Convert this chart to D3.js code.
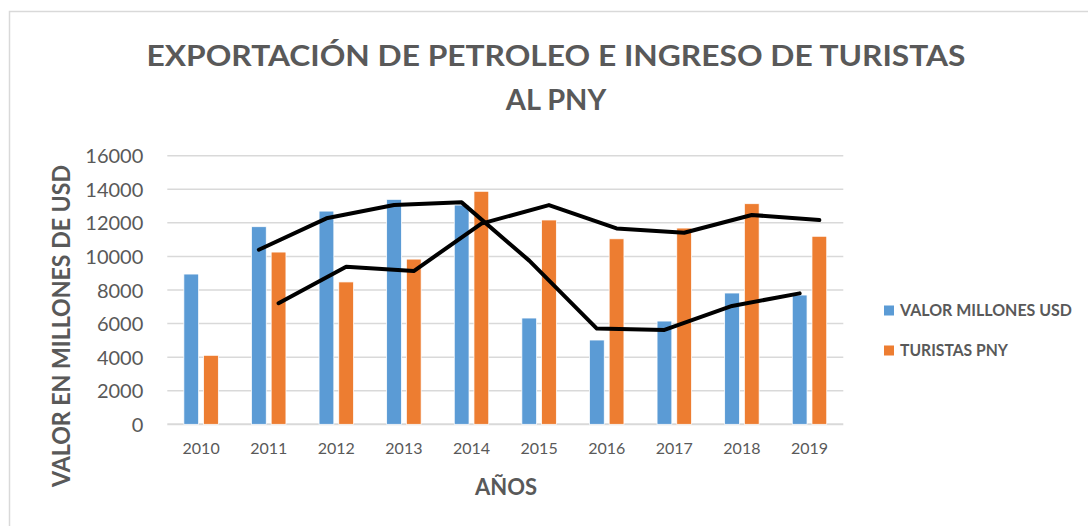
<!DOCTYPE html>
<html>
<head>
<meta charset="utf-8">
<script src="https://cdn.jsdelivr.net/npm/d3@7"></script>
<style>
  html, body { margin: 0; padding: 0; background: #fff; }
  svg { display: block; font-family: Lato, "Open Sans", sans-serif; }
</style>
</head>
<body>
<svg id="chart"></svg>
<script>
// Data
const years = ['2010', '2011', '2012', '2013', '2014', '2015', '2016', '2017', '2018', '2019'];
const valorMillones = [8950, 11770, 12700, 13400, 13060, 6330, 5020, 6150, 7820, 7700];
const turistas = [4110, 10260, 8480, 9840, 13880, 12170, 11050, 11690, 13140, 11200];
// black trend lines (2-period moving average, as drawn in the picture)
const valorTrend = [null, 10400, 12270, 13060, 13220, 9750, 5700, 5620, 7050, 7800];
const turistasTrend = [null, 7210, 9390, 9130, 11950, 13060, 11670, 11410, 12470, 12170];
const yTicks = [0, 2000, 4000, 6000, 8000, 10000, 12000, 14000, 16000];

const seriesNames = ['VALOR MILLONES USD', 'TURISTAS PNY'];
const colors = { v: '#5B9BD5', t: '#ED7D31' };
const textGray = '#595959';

const W = 1088, H = 526;
const margin = { top: 155.7, right: 244.7, bottom: 101.7, left: 167.3 };
const width = W - margin.left - margin.right;
const height = H - margin.top - margin.bottom;

const svg = d3.select('#chart').attr('width', W).attr('height', H);

// outer chart border (only top and left are inside the frame)
svg.append('rect')
    .attr('x', 9.5).attr('y', 11.5)
    .attr('width', W + 20).attr('height', H + 20)
    .attr('fill', 'none')
    .attr('stroke', '#D9D9D9')
    .attr('stroke-width', 1.5);

const chart = svg.append('g')
    .attr('transform', `translate(${margin.left},${margin.top})`);

const xScale = d3.scaleBand()
    .domain(years)
    .range([0, width])
    .paddingInner(0.49)
    .paddingOuter(0.245);

const xSub = d3.scaleBand()
    .domain(['v', 't'])
    .range([0, xScale.bandwidth()])
    .paddingInner(0.25);

const yScale = d3.scaleLinear()
    .domain([0, 16000])
    .range([height, 0]);

// gridlines
chart.append('g')
    .selectAll('line')
    .data(yTicks)
    .join('line')
    .attr('x1', 0).attr('x2', width)
    .attr('y1', d => yScale(d)).attr('y2', d => yScale(d))
    .attr('stroke', '#D9D9D9')
    .attr('stroke-width', d => d === 0 ? 2 : 1.5);

// y axis labels
const yAxis = d3.axisLeft(yScale)
    .tickValues(yTicks)
    .tickSize(0)
    .tickPadding(24)
    .tickFormat(d => d);

chart.append('g')
    .call(yAxis)
    .call(g => g.select('.domain').remove())
    .selectAll('text')
    .attr('fill', textGray)
    .attr('font-size', 20)
    .attr('font-family', 'Lato, sans-serif')
    .attr('dy', '0.35em');

// x axis labels
const xAxis = d3.axisBottom(xScale)
    .tickSize(0)
    .tickPadding(18);

chart.append('g')
    .attr('transform', `translate(0,${height})`)
    .call(xAxis)
    .call(g => g.select('.domain').remove())
    .selectAll('text')
    .attr('fill', textGray)
    .attr('font-size', 16)
    .attr('font-family', 'Lato, sans-serif');

// bars
const rows = years.map((y, i) => ({ year: y, v: valorMillones[i], t: turistas[i] }));

const groups = chart.append('g')
    .selectAll('g')
    .data(rows)
    .join('g')
    .attr('transform', d => `translate(${xScale(d.year)},0)`);

groups.selectAll('rect')
    .data(d => ['v', 't'].map(k => ({ key: k, value: d[k] })))
    .join('rect')
    .attr('x', d => xSub(d.key))
    .attr('width', xSub.bandwidth())
    .attr('y', d => yScale(d.value))
    .attr('height', d => yScale(0) - yScale(d.value))
    .attr('fill', d => colors[d.key])
    .attr('stroke', '#fff')
    .attr('stroke-width', 0.75);

// trend lines
function trendLine(values, key) {
    const pts = years.map((y, i) => ({ year: y, value: values[i] }))
        .filter(d => d.value !== null);
    const line = d3.line()
        .x(d => xScale(d.year) + xSub(key) + xSub.bandwidth() / 2)
        .y(d => yScale(d.value));
    chart.append('path')
        .datum(pts)
        .attr('d', line)
        .attr('fill', 'none')
        .attr('stroke', '#000')
        .attr('stroke-width', 4)
        .attr('stroke-linejoin', 'round')
        .attr('stroke-linecap', 'round');
}
trendLine(valorTrend, 'v');
trendLine(turistasTrend, 't');

// title
const title = svg.append('text')
    .attr('text-anchor', 'middle')
    .attr('fill', textGray)
    .attr('font-size', 29)
    .attr('font-weight', 'bold');
title.append('tspan')
    .attr('x', 556).attr('y', 66)
    .attr('textLength', 819)
    .attr('lengthAdjust', 'spacingAndGlyphs')
    .text('EXPORTACIÓN DE PETROLEO E INGRESO DE TURISTAS');
title.append('tspan')
    .attr('x', 556).attr('y', 110)
    .text('AL PNY');

// axis titles
svg.append('text')
    .attr('transform', 'translate(70,326) rotate(-90)')
    .attr('text-anchor', 'middle')
    .attr('fill', textGray)
    .attr('font-size', 25)
    .attr('font-weight', 'bold')
    .attr('textLength', 322)
    .attr('lengthAdjust', 'spacingAndGlyphs')
    .text('VALOR EN MILLONES DE USD');

svg.append('text')
    .attr('x', 506).attr('y', 495)
    .attr('text-anchor', 'middle')
    .attr('fill', textGray)
    .attr('font-size', 22)
    .attr('font-weight', 'bold')
    .text('AÑOS');

// legend
const legend = svg.append('g')
    .selectAll('g')
    .data(seriesNames)
    .join('g')
    .attr('transform', (d, i) => `translate(884,${305.5 + i * 40})`);

legend.append('rect')
    .attr('width', 10).attr('height', 10)
    .attr('fill', (d, i) => i === 0 ? colors.v : colors.t);

legend.append('text')
    .attr('x', 16).attr('y', 10.5)
    .attr('fill', textGray)
    .attr('font-size', 17)
    .attr('font-weight', 'bold')
    .attr('textLength', (d, i) => i === 0 ? 172 : 108)
    .attr('lengthAdjust', 'spacingAndGlyphs')
    .text(d => d);
</script>
</body>
</html>
